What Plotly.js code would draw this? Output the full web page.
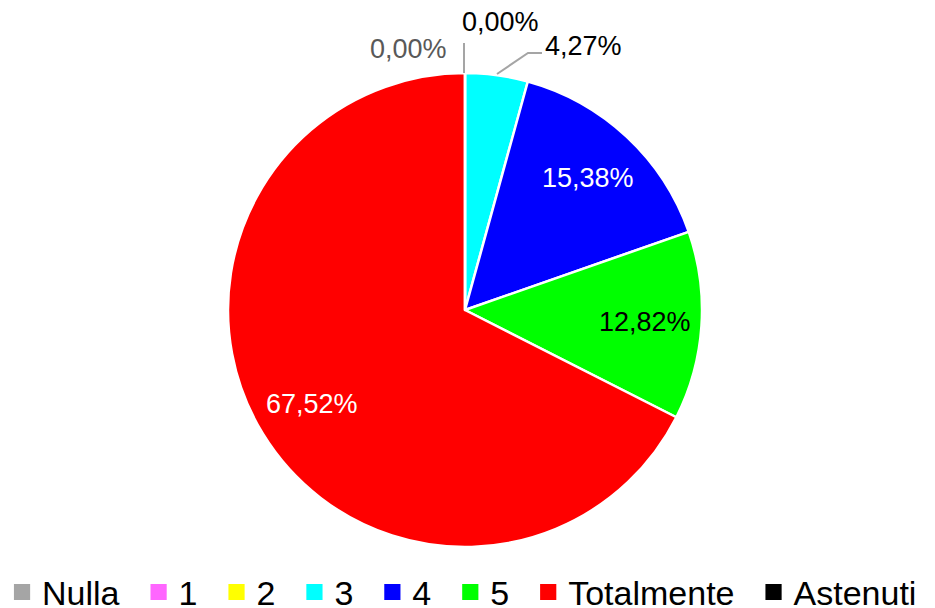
<!DOCTYPE html>
<html>
<head>
<meta charset="utf-8">
<script src="https://cdn.plot.ly/plotly-3.0.1.min.js"></script>
<style>
  html, body { margin: 0; padding: 0; background: #fff; }
  #chart { width: 935px; height: 608px; }
</style>
</head>
<body>
<div id="chart"></div>
<script>
// answers and their shares (%)
const labels = ["Nulla", "1", "2", "3", "4", "5", "Totalmente", "Astenuti"];
const values = [0, 0, 0, 4.27, 15.38, 12.82, 67.52, 0];
const colors = ["#A5A5A5", "#FF66FF", "#FFFF00", "#00FFFF", "#0000FF", "#00FF00", "#FF0000", "#000000"];
const labelColors = ["#595959", "#000000", "#000000", "#000000", "#FFFFFF", "#000000", "#FFFFFF", "#000000"];

function fmt(v) {
    return v.toFixed(2).replace(".", ",") + "%";
}

// pie geometry in pixels (used for the domain and the label spots)
const W = 935, H = 608;
const cx = 465, cy = 310, R = 237;

const labelFont = {family: "Liberation Sans, Arial, sans-serif", size: 27};

// inside labels: placed at 3/4 radius on the middle angle of their slice
let total = values.reduce((a, b) => a + b, 0);
let cum = 0;
let annotations = [];
values.forEach((v, i) => {
    let mid = (cum + v / 2) / total * 2 * Math.PI;
    cum += v;
    if (v <= 5) return;
    let r = 0.76 * R;
    annotations.push({
        xref: "paper", yref: "paper",
        x: (cx + r * Math.sin(mid)) / W,
        y: (H - cy + r * Math.cos(mid)) / H,
        xanchor: "center", yanchor: "middle",
        text: fmt(v), showarrow: false,
        font: Object.assign({color: labelColors[i]}, labelFont)
    });
});

// outside labels for the small and empty slices
const outsideSpots = [[0, 408, 49], [1, 500, 22], [3, 583, 46]];
outsideSpots.forEach(([i, px, py]) => {
    annotations.push({
        xref: "paper", yref: "paper",
        x: px / W, y: 1 - py / H,
        xanchor: "center", yanchor: "middle",
        text: fmt(values[i]), showarrow: false,
        font: Object.assign({color: labelColors[i]}, labelFont)
    });
});

let shapes = [
    // leader for the black 0,00% label
    {type: "line", xref: "paper", yref: "paper",
     x0: 464 / W, y0: 1 - 73 / H, x1: 464 / W, y1: 1 - 43 / H,
     line: {color: "#A5A5A5", width: 2}},
    // leader for 4,27%
    {type: "path", xref: "paper", yref: "paper",
     path: "M" + 497 / W + "," + (1 - 74 / H) + " L" + 528 / W + "," + (1 - 53 / H) +
           " L" + 542 / W + "," + (1 - 53 / H),
     line: {color: "#A5A5A5", width: 2}}
];

let trace = {
    type: "pie",
    labels: labels,
    values: values,
    sort: false,
    direction: "clockwise",
    rotation: 0,
    marker: {colors: colors, line: {color: "#FFFFFF", width: 2.5}},
    textinfo: "none",
    hoverinfo: "label+percent",
    domain: {
        x: [(cx - R) / W, (cx + R) / W],
        y: [(H - cy - R) / H, (H - cy + R) / H]
    }
};

Plotly.newPlot("chart", [trace], {
    width: W,
    height: H,
    margin: {l: 0, r: 0, t: 0, b: 0, autoexpand: false},
    paper_bgcolor: "#FFFFFF",
    showlegend: true,
    legend: {
        orientation: "h",
        x: -0.0128, xanchor: "left",
        y: -0.022, yanchor: "bottom",
        itemwidth: 44,
        font: {family: "Liberation Sans Narrow, Arial Narrow, sans-serif", size: 34, color: "#000000"},
        traceorder: "normal"
    },
    annotations: annotations,
    shapes: shapes
}, {displayModeBar: false}).then(gd => {
    // bigger legend squares, nearer to their text, as in the original
    gd.querySelectorAll(".legendpoints path").forEach(p => {
        let t = p.getAttribute("transform") || "";
        p.setAttribute("transform", t + " translate(7,0) scale(1.35)");
        p.style.strokeWidth = "0px";
    });
});
</script>
</body>
</html>
